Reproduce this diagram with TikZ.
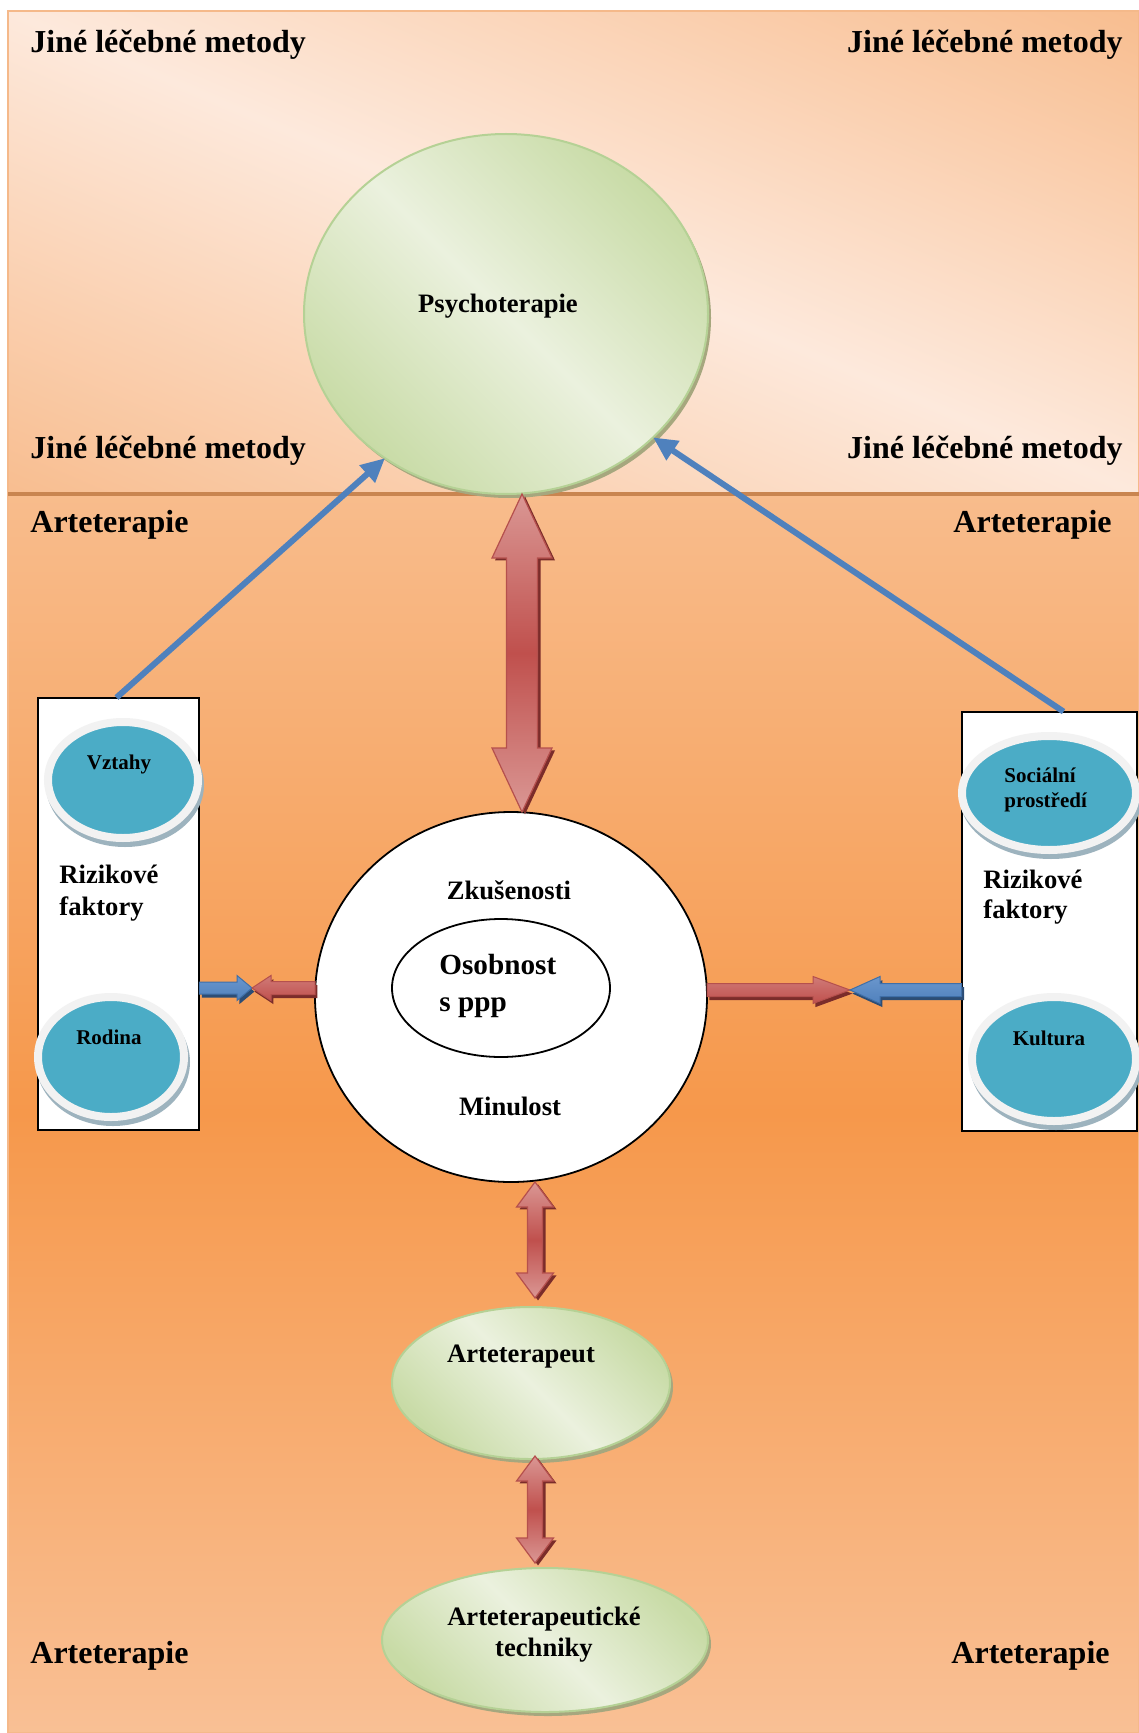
\documentclass[tikz,border=0pt]{standalone}
\usepackage{fontspec}
\setmainfont{Liberation Serif}
\usetikzlibrary{shapes.geometric,calc,arrows.meta}

\definecolor{peachL}{HTML}{FDE9DC}
\definecolor{peachD}{HTML}{F8BD8F}
\definecolor{orTop}{HTML}{F8BC8C}
\definecolor{orMid}{HTML}{F6984B}
\definecolor{orBot}{HTML}{F9C095}
\definecolor{framec}{HTML}{F5B98A}
\definecolor{divc}{HTML}{C98550}
\definecolor{greenL}{HTML}{EBF1DE}
\definecolor{greenD}{HTML}{C8DBA6}
\definecolor{greenB}{HTML}{B5D195}
\definecolor{greenS}{HTML}{A6A77E}
\definecolor{tealc}{HTML}{4BACC6}
\definecolor{ringc}{HTML}{F2F2F2}
\definecolor{tealS}{HTML}{9DB3BE}
\definecolor{blueA}{HTML}{4F81BD}
\definecolor{blueL}{HTML}{6A96CC}
\definecolor{blueB}{HTML}{3F6FA8}
\definecolor{blueD}{HTML}{2C4D75}
\definecolor{redA}{HTML}{C0504D}
\definecolor{redL}{HTML}{DA9794}
\definecolor{redB}{HTML}{B5504D}
\definecolor{redD}{HTML}{7B2C2A}

\tikzset{
  cornerlbl/.style={font=\bfseries\fontsize{16}{19}\selectfont, inner sep=0pt},
  txt/.style={font=\bfseries\fontsize{13.3}{16}\selectfont, inner sep=0pt, align=center},
  smalltxt/.style={font=\bfseries\fontsize{10.5}{12.5}\selectfont, inner sep=0pt, align=left},
  greenell/.style={ellipse, draw=greenB, line width=1pt, top color=greenD, bottom color=greenD, middle color=greenL, shading angle=-45, inner sep=0pt, outer sep=0pt},
  gshadow/.style={ellipse, fill=greenS, inner sep=0pt, outer sep=0pt},
  tealell/.style={ellipse, fill=tealc, draw=ringc, line width=4pt, inner sep=0pt, outer sep=0pt},
  tshadow/.style={ellipse, fill=tealS, inner sep=0pt, outer sep=0pt},
  riskbox/.style={draw=black, fill=white, line width=1pt},
  thinblue/.style={draw=blueA, line width=3pt, -{Triangle[length=12pt,width=11pt]}},
  redfat/.style={draw=redB, line width=0.6pt, top color=redL, bottom color=redL, middle color=redA},
  redhor/.style={draw=redB, line width=0.5pt, top color=redL!60!redA, bottom color=redA},
  bluehor/.style={draw=blueB, line width=0.5pt, top color=blueL, bottom color=blueA},
}

% single fat arrow: #1 start, #2 tip, #3 head length, #4 head half width, #5 shaft half width, #6 style, #7 shadow colour
\newcommand\fatone[7]{%
  \coordinate (fah) at ($(#2)!#3!(#1)$);
  \fill[#7, transform canvas={shift={(1.2pt,-1.8pt)}}] ($(#1)!#5!90:(#2)$) -- ($(fah)!#5!90:(#2)$) -- ($(fah)!#4!90:(#2)$) -- (#2) -- ($(fah)!#4!-90:(#2)$) -- ($(fah)!#5!-90:(#2)$) -- ($(#1)!#5!-90:(#2)$) -- cycle;
  \path[#6] ($(#1)!#5!90:(#2)$) -- ($(fah)!#5!90:(#2)$) -- ($(fah)!#4!90:(#2)$) -- (#2) -- ($(fah)!#4!-90:(#2)$) -- ($(fah)!#5!-90:(#2)$) -- ($(#1)!#5!-90:(#2)$) -- cycle;
}
% double fat arrow: #1 tip A, #2 tip B, #3 head length, #4 head half width, #5 shaft half width, #6 style, #7 shadow colour
\newcommand\fattwo[7]{%
  \coordinate (fha) at ($(#1)!#3!(#2)$);
  \coordinate (fhb) at ($(#2)!#3!(#1)$);
  \fill[#7, transform canvas={shift={(1.5pt,-1.2pt)}}] (#1) -- ($(fha)!#4!90:(#2)$) -- ($(fha)!#5!90:(#2)$) -- ($(fhb)!#5!90:(#2)$) -- ($(fhb)!#4!90:(#2)$) -- (#2) -- ($(fhb)!#4!-90:(#2)$) -- ($(fhb)!#5!-90:(#2)$) -- ($(fha)!#5!-90:(#2)$) -- ($(fha)!#4!-90:(#2)$) -- cycle;
  \path[#6] (#1) -- ($(fha)!#4!90:(#2)$) -- ($(fha)!#5!90:(#2)$) -- ($(fhb)!#5!90:(#2)$) -- ($(fhb)!#4!90:(#2)$) -- (#2) -- ($(fhb)!#4!-90:(#2)$) -- ($(fhb)!#5!-90:(#2)$) -- ($(fha)!#5!-90:(#2)$) -- ($(fha)!#4!-90:(#2)$) -- cycle;
}

\begin{document}
\begin{tikzpicture}[x=0.5pt,y=-0.5pt]
\useasboundingbox (0,0) rectangle (1139,1733);
\fill[white] (0,0) rectangle (1139,1733);

% backgrounds
\begin{scope}
  \clip (8,11) rectangle (1139,494);
  \begin{scope}[transform canvas={rotate around={-23.1:(573.5,252.5)}}]
    \shade[top color=peachD, bottom color=peachD, middle color=peachL] (-240,-195) rectangle (1390,700);
  \end{scope}
\end{scope}
\shade[top color=orTop, bottom color=orBot, middle color=orMid] (8,494) rectangle (1139,1733);
\draw[framec, line width=1pt] (8,11) rectangle (1139,1733);
\draw[divc, line width=2pt] (8,494) -- (1139,494);

% corner labels
\node[cornerlbl, anchor=west] (j1) at (30,45) {Jiné léčebné metody};
\node[cornerlbl, anchor=east] (j2) at (1123,45) {Jiné léčebné metody};
\node[cornerlbl, anchor=west] (j3) at (30,451) {Jiné léčebné metody};
\node[cornerlbl, anchor=east] (j4) at (1123,451) {Jiné léčebné metody};
\node[cornerlbl, anchor=west] (a1) at (30,525) {Arteterapie};
\node[cornerlbl, anchor=east] (a2) at (1112,525) {Arteterapie};
\node[cornerlbl, anchor=west] (a3) at (30,1656) {Arteterapie};
\node[cornerlbl, anchor=east] (a4) at (1110,1656) {Arteterapie};

% Psychoterapie
\node[gshadow, minimum width=202pt, minimum height=180pt] (psysh) at (509,318) {};
\node[greenell, minimum width=202pt, minimum height=180pt] (psy) at (506,314) {};
\node[txt] (psyt) at (498,306) {Psychoterapie};

% risk boxes
\draw[riskbox] (38,698) rectangle (199,1130);
\node[inner sep=0pt, minimum width=80.5pt, minimum height=216pt] (lbox) at (118.5,914) {};
\draw[riskbox] (962,712) rectangle (1137,1131);
\node[inner sep=0pt, minimum width=87.5pt, minimum height=209.5pt] (rbox) at (1049.5,921.5) {};

% thin blue arrows
\draw[thinblue] ($(lbox.north)+(-2,0)$) -- (psy.230);
\draw[thinblue] ($(rbox.north)+(14,0)$) -- (psy.320);

% teal ellipses
\node[tshadow, minimum width=79pt, minimum height=62pt] (vzsh) at (125,785) {};
\node[tealell, minimum width=75pt, minimum height=58pt] (vz) at (123,780) {};
\node[smalltxt] (vzt) at (119,764) {Vztahy};
\node[tshadow, minimum width=77pt, minimum height=64pt] (rosh) at (113,1062) {};
\node[tealell, minimum width=73pt, minimum height=60pt] (ro) at (111,1057) {};
\node[smalltxt] (rot) at (109,1037) {Rodina};
\node[tshadow, minimum width=91pt, minimum height=61pt] (sosh) at (1051,798) {};
\node[tealell, minimum width=87pt, minimum height=57pt] (so) at (1049,793) {};
\node[smalltxt, anchor=west] (sot) at (1004,790) {Sociální\\prostředí};
\node[tshadow, minimum width=86pt, minimum height=66pt] (kush) at (1056,1064) {};
\node[tealell, minimum width=82pt, minimum height=62pt] (ku) at (1054,1059) {};
\node[smalltxt] (kut) at (1049,1038) {Kultura};

\node[txt, align=left, anchor=west, font=\bfseries\fontsize{13.3}{16}\selectfont] (rf1) at (59,893) {Rizikové\\faktory};
\node[txt, align=left, anchor=west, font=\bfseries\fontsize{13.3}{15}\selectfont] (rf2) at (983,897) {Rizikové\\faktory};

% central circle
\node[ellipse, draw=black, fill=white, line width=0.9pt, minimum width=196pt, minimum height=185pt, inner sep=0pt, outer sep=0pt] (circ) at (511,997) {};
\node[ellipse, draw=black, fill=white, line width=0.9pt, minimum width=109pt, minimum height=69pt, inner sep=0pt, outer sep=0pt] (inner) at (501,988) {};
\node[txt] (zk) at (509,890) {Zkušenosti};
\node[txt, align=left, anchor=west, font=\bfseries\fontsize{14.6}{18.5}\selectfont] (os) at (439,986) {Osobnost\\s ppp};
\node[txt] (mi) at (510,1106) {Minulost};

% bottom ellipses
\node[gshadow, minimum width=139pt, minimum height=76pt] (artsh) at (534,1387) {};
\node[greenell, minimum width=139pt, minimum height=76pt] (art) at (531,1383) {};
\node[txt] (artt) at (521,1357) {Arteterapeut};
\node[gshadow, minimum width=163pt, minimum height=72pt] (techsh) at (548,1644) {};
\node[greenell, minimum width=163pt, minimum height=72pt] (tech) at (545,1640) {};
\node[txt, font=\bfseries\fontsize{13.3}{15.5}\selectfont] (techt) at (544,1635) {Arteterapeutické\\techniky};

% big vertical double arrows
\coordinate (v1) at ($(psy.south)+(16,0)$);
\coordinate (v2) at ($(circ.north)+(11,0)$);
\fattwo{v1}{v2}{32pt}{15pt}{7.75pt}{redfat}{redD}
\coordinate (v3) at ($(circ.south)+(24,0)$);
\coordinate (v4) at ($(art.north)+(4,-9)$);
\fattwo{v3}{v4}{12.5pt}{9.25pt}{3.75pt}{redfat}{redD}
\coordinate (v5) at ($(art.south)+(4,-3)$);
\coordinate (v6) at ($(tech.north)+(-10,-5)$);
\fattwo{v5}{v6}{12.5pt}{9.25pt}{3.75pt}{redfat}{redD}

% horizontal arrows
\coordinate (lmeet) at (252,988);
\fatone{lbox.east |- lmeet}{lmeet}{7.5pt}{6.25pt}{3pt}{bluehor}{blueD}
\fatone{circ.west |- lmeet}{lmeet}{9.5pt}{6.25pt}{3.25pt}{redhor}{redD}
\coordinate (rmeet) at (850,990);
\fatone{circ.east |- rmeet}{rmeet}{18.5pt}{6.75pt}{3.25pt}{redhor}{redD}
\fatone{rbox.west |- rmeet}{rmeet}{15pt}{6.75pt}{3.25pt}{bluehor}{blueD}
\end{tikzpicture}
\end{document}
